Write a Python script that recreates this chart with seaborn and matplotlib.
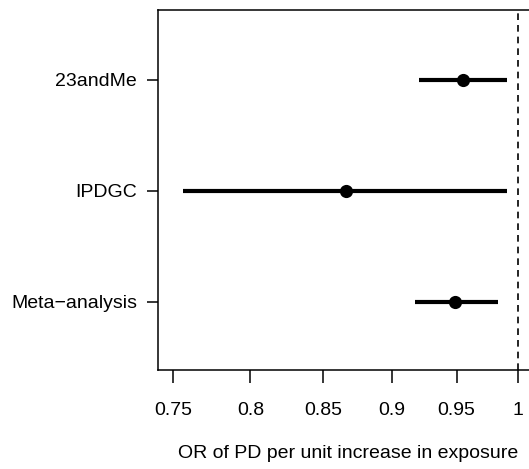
import matplotlib
matplotlib.use("Agg")
import matplotlib.pyplot as plt
import seaborn as sns
import pandas as pd

# estimates and 95% CI
studies = ["23andMe", "IPDGC", "Meta\u2212analysis"]
odds_ratio = [0.955, 0.866, 0.949]
ci_low = [0.921, 0.756, 0.918]
ci_high = [0.991, 0.991, 0.983]
xticks = [0.75, 0.8, 0.85, 0.9, 0.95, 1]
xtick_labels = ["0.75", "0.8", "0.85", "0.9", "0.95", "1"]

df = pd.DataFrame({"study": studies, "or": odds_ratio, "lo": ci_low, "hi": ci_high})
df["ypos"] = [3, 2, 1]

sns.set_style("ticks")
plt.rcParams["font.family"] = ["Liberation Sans", "DejaVu Sans"]
plt.rcParams["font.size"] = 14

fig = plt.figure(figsize=(5.29, 4.69), dpi=100)
ax = fig.add_axes([158 / 529, 1 - 370 / 469, 380 / 529, 360 / 469])

ax.hlines(df["ypos"], df["lo"], df["hi"], color="black", linewidth=3)
sns.scatterplot(data=df, x="or", y="ypos", color="black", s=90, edgecolor="black",
                linewidth=0, ax=ax, zorder=3)
ax.axvline(1, color="black", linestyle=(0, (4, 3)), linewidth=1.2)

ax.set_xscale("log")
ax.set_xlim(0.7407, 1.0167)
ax.set_ylim(0.385, 3.63)
ax.set_xticks(xticks)
ax.set_xticklabels(xtick_labels)
ax.xaxis.set_minor_locator(matplotlib.ticker.NullLocator())
ax.set_yticks(df["ypos"])
ax.set_yticklabels(studies)

for sp in ax.spines.values():
    sp.set_linewidth(1.1)
    sp.set_color("black")
ax.tick_params(axis="x", length=9, width=1.1, pad=14, labelsize=14, colors="black")
ax.tick_params(axis="y", length=8, width=1.1, pad=7, labelsize=14, colors="black")

ax.set_xlabel("OR of PD per unit increase in exposure", fontsize=14, labelpad=18.5,
              color="black")
ax.set_ylabel("")

fig.savefig("out.png", dpi=100)
